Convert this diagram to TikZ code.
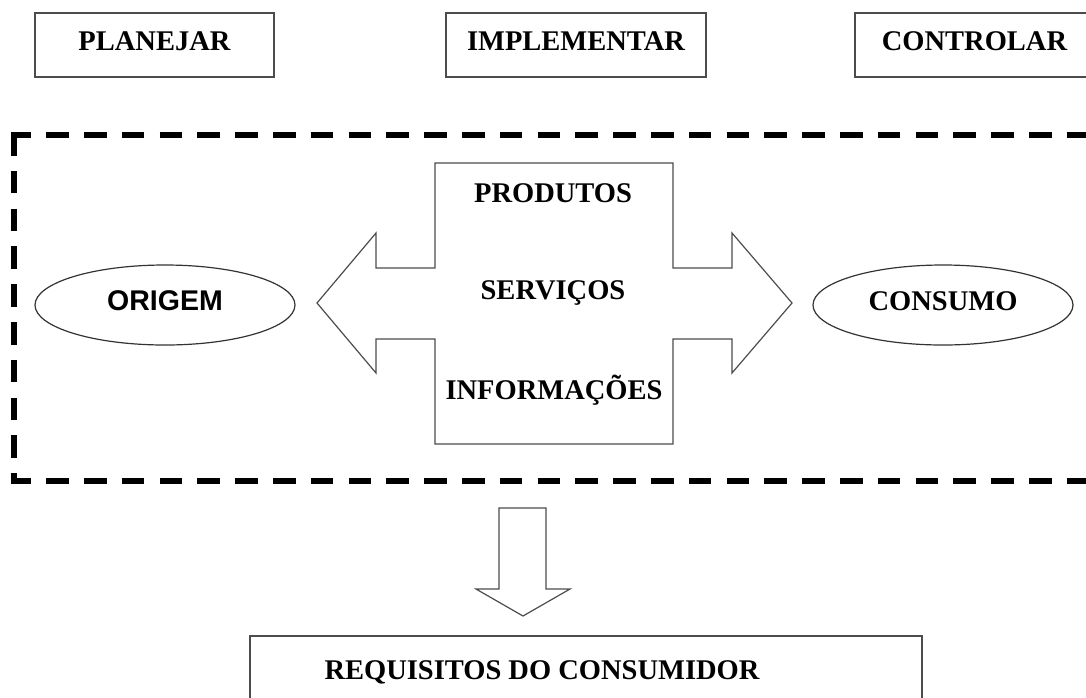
\documentclass[tikz,border=0pt]{standalone}
\usepackage{fontspec}
\setmainfont{Liberation Serif}
\newfontfamily\arialfont{Liberation Sans}
\usetikzlibrary{shapes.geometric}
\begin{document}
\begin{tikzpicture}[x=1pt,y=-1pt,
  txt/.style={font=\fontsize{28.5}{34}\selectfont\bfseries},
  box/.style={draw=black!70, line width=1.3pt, inner sep=0pt, txt,
              minimum width=239pt, minimum height=64pt, text height=20pt, text depth=10pt},
  lbl/.style={txt, anchor=base, inner sep=0pt},
  oval/.style={ellipse, draw=black!80, line width=1.2pt, minimum width=260pt, minimum height=80pt,
               inner sep=0pt, text height=20pt, text depth=10pt, txt},
  frame/.style={line width=6pt, dash pattern=on 22.6pt off 15.2pt},
  blockarrow/.style={draw=black!70, line width=1.2pt, line join=miter}
]
\useasboundingbox (0,0) rectangle (1086,697);

% top boxes
\node[box] (plan) at (154.5,45) {PLANEJAR};
\node[box, minimum width=260pt] (impl) at (576,45) {IMPLEMENTAR};
\node[box] (ctrl) at (974.5,45) {CONTROLAR};

% dashed frame
\draw[frame, dash phase=2.6pt] (11,135) -- (1100,135);
\draw[frame] (14,133) -- (14,484);
\draw[frame, dash phase=2.6pt] (11,481) -- (1100,481);

% ellipses
\node[oval, font=\fontsize{28.5}{34}\selectfont\arialfont\bfseries] (orig) at (165,305) {ORIGEM};
\node[oval] (cons) at (943,305) {CONSUMO};

% central double block arrow
\draw[blockarrow] (435,163) -- (673,163) -- (673,268) -- (732,268) -- (732,233) -- (792,303)
  -- (732,373) -- (732,339) -- (673,339) -- (673,444) -- (435,444) -- (435,339)
  -- (376,339) -- (376,373) -- (317,303) -- (376,233) -- (376,268) -- (435,268) -- cycle;
\node[lbl] (prod) at (553,202) {PRODUTOS};
\node[lbl] (serv) at (553,299) {SERVIÇOS};
\node[lbl] (info) at (554,399) {INFORMAÇÕES};

% down block arrow
\draw[blockarrow] (499,508) -- (546,508) -- (546,589) -- (570,589) -- (523,616)
  -- (476,589) -- (499,589) -- cycle;

% bottom box
\node[draw=black!70, line width=1.3pt, minimum width=672pt, minimum height=100pt, inner sep=0pt]
  (reqbox) at (586,686) {};
\node[lbl] (req) at (542,679) {REQUISITOS DO CONSUMIDOR};
\end{tikzpicture}
\end{document}
